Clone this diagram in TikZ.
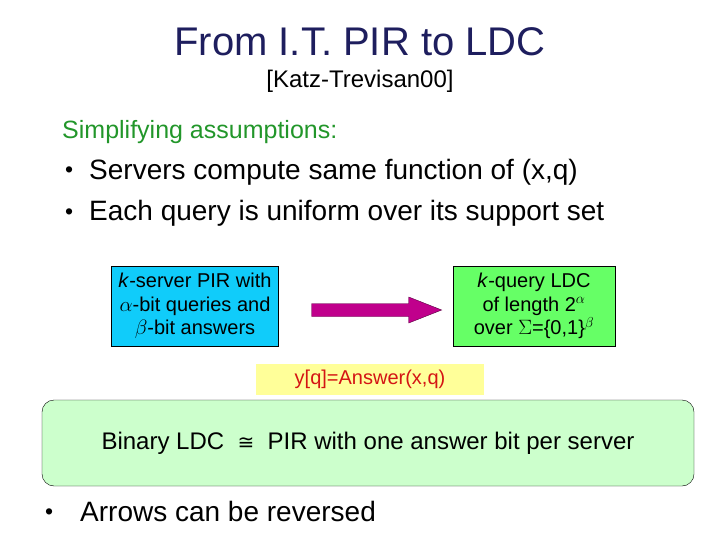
\documentclass[tikz,border=0pt]{standalone}
\usepackage{fontspec}
\setmainfont{Liberation Sans}
\newfontfamily\symbolfont{DejaVu Sans}
\usepackage{amsmath,amssymb}
\usepackage{xcolor}
\usepackage{tikz}
\usetikzlibrary{arrows.meta,calc,positioning}
\definecolor{titlenavy}{HTML}{1E1E5E}
\definecolor{headgreen}{HTML}{22962A}
\definecolor{pircyan}{HTML}{10CCFA}
\definecolor{ldcgreen}{HTML}{66FF66}
\definecolor{arrowmagenta}{HTML}{C0008C}
\definecolor{noteyellow}{HTML}{FFFF99}
\definecolor{notered}{HTML}{D41414}
\definecolor{panelgreen}{HTML}{CCFFCC}
\tikzset{
  titletext/.style={anchor=base,inner sep=0,text=titlenavy,font=\fontsize{40}{48}\selectfont},
  subtext/.style={anchor=base,inner sep=0,font=\fontsize{24}{29}\selectfont},
  headtext/.style={anchor=base west,inner sep=0,text=headgreen,font=\fontsize{25}{30}\selectfont},
  bullettext/.style={anchor=base west,inner sep=0,font=\fontsize{28}{34}\selectfont},
  bulletdot/.style={anchor=base west,inner sep=0,font=\fontsize{23}{28}\selectfont},
  schemebox/.style={draw=black,align=center,inner sep=0,minimum height=80,font=\fontsize{20}{23.5}\selectfont},
  reduction/.style={draw=arrowmagenta!45!black,fill=arrowmagenta,line join=miter},
  notebox/.style={fill=noteyellow,text=notered,minimum width=228,minimum height=31,inner sep=0,font=\fontsize{20}{24}\selectfont},
  panel/.style={draw=black,fill=panelgreen,rounded corners=12,minimum width=652,minimum height=86,inner sep=0,font=\fontsize{24}{29}\selectfont}
}
\begin{document}
\begin{tikzpicture}[x=1pt,y=-1pt]
  \useasboundingbox (0,0) rectangle (720,540);
  % title
  \node[titletext] (title) at (360,56) {From I.T. PIR to LDC};
  \node[subtext] (cite) at (360,88) {[Katz-Trevisan00]};
  % assumptions
  \node[headtext] (head) at (62,139) {Simplifying assumptions:};
  \foreach \y/\txt/\nm in {180/Servers compute same function of (x{,}q)/same,221/Each query is uniform over its support set/unif}{
    \node[bulletdot] (b\nm) at (65,\y-2) {\textbullet};
    \node[bullettext] (\nm) at (89,\y) {\txt};
  }
  % the reduction
  \node[schemebox,fill=pircyan,minimum width=167] (pir) at (195,306)
    {\textit{k}-server PIR with\\$\alpha$-bit queries and\\$\beta$-bit answers};
  \node[schemebox,fill=ldcgreen,minimum width=162] (ldc) at (534,306)
    {\textit{k}-query LDC\\of length 2\textsuperscript{$\alpha$}\\over $\Sigma$=\{0,1\}\textsuperscript{$\beta$}};
  \coordinate (arrtail) at ($(pir.east)+(33,4)$);
  \draw[reduction] (arrtail) ++(0,-6.5) -- ++(97,0) -- ++(0,-6.5) -- ++(33,13)
    -- ++(-33,13) -- ++(0,-6.5) -- ++(-97,0) -- cycle;
  \node[notebox] (answer) at (370,379) {y[q]=Answer(x,q)};
  % binary case
  \node[panel] (binary) at (368,443) {Binary LDC \ {\symbolfont\fontsize{20}{24}\selectfont ≅}\ \ PIR with one answer bit per server};
  \node[bulletdot] (brev) at (45,519) {\textbullet};
  \node[bullettext] (rev) at (80,521) {Arrows can be reversed};
\end{tikzpicture}
\end{document}
